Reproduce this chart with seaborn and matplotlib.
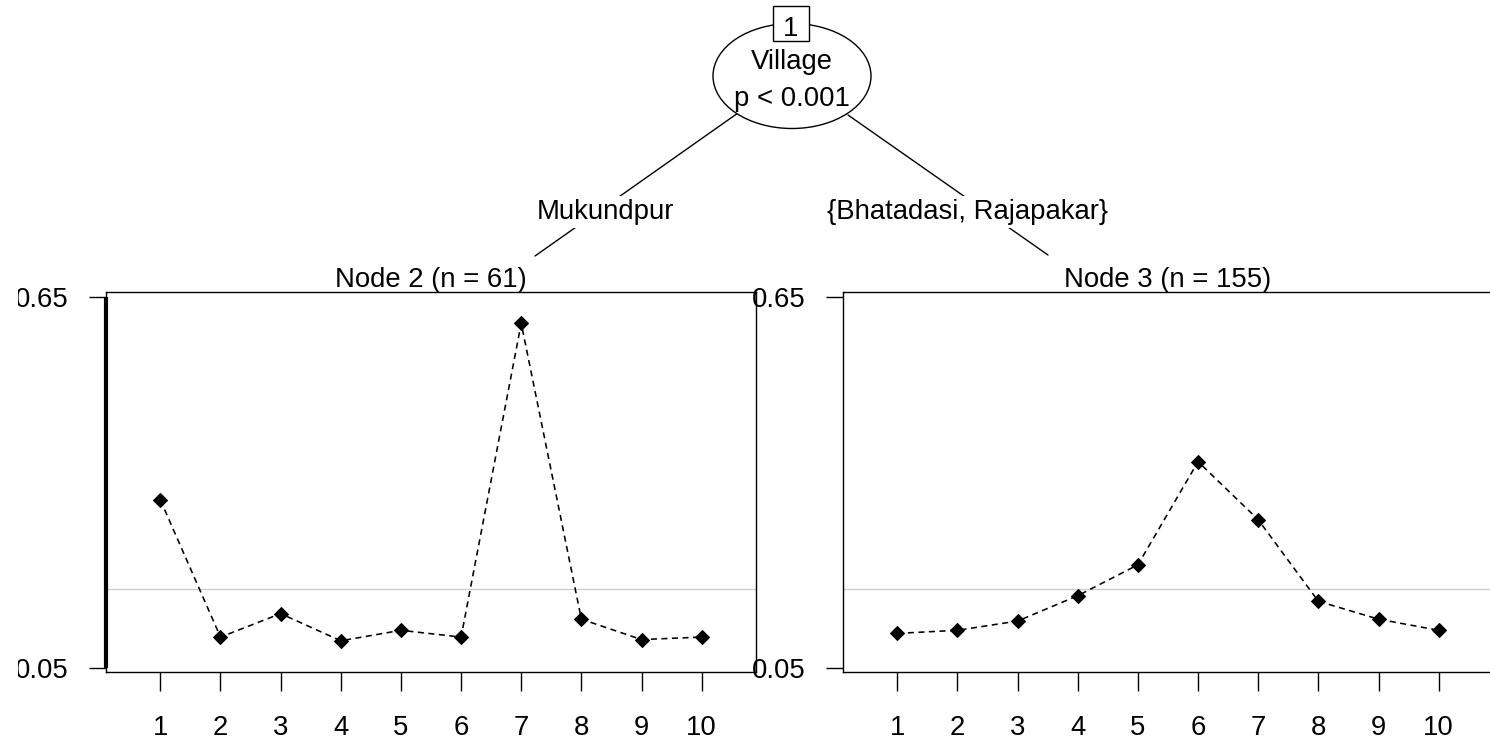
import matplotlib
matplotlib.use("Agg")
import matplotlib.pyplot as plt
from matplotlib.patches import Ellipse, Rectangle
from matplotlib.transforms import Bbox, TransformedBbox
import seaborn as sns
import pandas as pd

# ---- data ----
categories = [1, 2, 3, 4, 5, 6, 7, 8, 9, 10]
node2_values = [0.322, 0.100, 0.138, 0.094, 0.111, 0.100, 0.608, 0.129, 0.096, 0.100]
node3_values = [0.106, 0.111, 0.126, 0.167, 0.217, 0.384, 0.290, 0.158, 0.129, 0.111]
reference_level = 0.178
y_ticks = [0.05, 0.65]
y_tick_labels = ["0.05", "0.65"]
x_tick_labels = [str(c) for c in categories]
node2_title = "Node 2 (n = 61)"
node3_title = "Node 3 (n = 155)"
split_var = "Village"
split_p = "p < 0.001"
left_label = "Mukundpur"
right_label = "{Bhatadasi, Rajapakar}"

sns.set_theme(style="white")
plt.rcParams["font.family"] = ["Liberation Sans", "DejaVu Sans"]
plt.rcParams["axes.edgecolor"] = "black"
plt.rcParams["text.color"] = "black"
plt.rcParams["xtick.color"] = "black"
plt.rcParams["ytick.color"] = "black"
plt.rcParams["xtick.labelcolor"] = "black"
plt.rcParams["ytick.labelcolor"] = "black"
FS = 19.8

W, H = 1490, 745
fig = plt.figure(figsize=(W / 100, H / 100), dpi=100)
fig.patch.set_facecolor("white")

ax1 = fig.add_axes([106 / W, (H - 672) / H, 650 / W, 380 / H])
ax2 = fig.add_axes([843 / W, (H - 672) / H, 650 / W, 380 / H])

off = 54.4 / 60.2
xlim = (categories[0] - off, categories[-1] + off)
ylim = (0.0435, 0.6586)

for ax, vals in ((ax1, node2_values), (ax2, node3_values)):
    df = pd.DataFrame({"x": categories, "y": vals})
    ax.axhline(reference_level, color="#cfcfcf", lw=1.0, zorder=1)
    sns.lineplot(data=df, x="x", y="y", ax=ax, color="black", lw=1.15,
                 linestyle="--", marker="D", markersize=7,
                 markeredgecolor="black", markerfacecolor="black", zorder=3)
    ax.lines[-1].set_dashes([3.8, 2.8])
    ax.set_xlim(*xlim)
    ax.set_ylim(*ylim)
    ax.set_xticks(categories)
    ax.set_xticklabels(x_tick_labels)
    ax.set_yticks(y_ticks)
    ax.set_yticklabels(y_tick_labels)
    ax.set_xlabel("")
    ax.set_ylabel("")
    ax.tick_params(axis="x", direction="out", length=13.7, width=1.0,
                   colors="black", labelsize=FS, pad=17, bottom=True)
    ax.tick_params(axis="y", direction="out", length=12.5, width=1.0,
                   colors="black", labelsize=FS, pad=14.5, left=True)
    for s in ax.spines.values():
        s.set_linewidth(1.0)
        s.set_color("black")
    ax.set_facecolor("white")
    ax.grid(False)

# thick y-axis line on the left panel
ax1.vlines(xlim[0], y_ticks[0], y_ticks[-1], color="black", lw=3.0,
           clip_on=False, zorder=5)

# clip left panel y tick labels like the reference
clipbox = TransformedBbox(Bbox([[18 / W, 0], [1, 1]]), fig.transFigure)
for lab in ax1.get_yticklabels():
    lab.set_clip_box(clipbox)
    lab.set_clip_on(True)

# ---- tree overlay ----
tree = fig.add_axes([0, 0, 1, 1], zorder=10)
tree.set_xlim(0, W)
tree.set_ylim(H, 0)
tree.axis("off")

tree.plot([738, 535], [113, 256], color="black", lw=1.0)
tree.plot([848, 1048], [115, 255], color="black", lw=1.0)
tree.add_patch(Ellipse((792, 76), 158, 105, facecolor="white",
                       edgecolor="black", lw=1.0, zorder=3))
tree.add_patch(Rectangle((773, 6), 36, 35, facecolor="white",
                         edgecolor="black", lw=1.0, zorder=4))
tree.text(791, 36, "1", ha="center", va="baseline", fontsize=FS, zorder=5)
tree.text(792, 69, split_var, ha="center", va="baseline", fontsize=FS, zorder=5)
tree.text(792, 106, split_p, ha="center", va="baseline", fontsize=FS, zorder=5)

bb = dict(boxstyle="square,pad=0.12", facecolor="white", edgecolor="none")
tree.text(605.5, 219, left_label, ha="center", va="baseline", fontsize=FS,
          bbox=bb, zorder=5)
tree.text(967.5, 219, right_label, ha="center", va="baseline", fontsize=FS,
          bbox=bb, zorder=5)

tree.text(431, 287, node2_title, ha="center", va="baseline", fontsize=FS)
tree.text(1168, 287, node3_title, ha="center", va="baseline", fontsize=FS)

fig.savefig("out.png", dpi=100, facecolor="white")
